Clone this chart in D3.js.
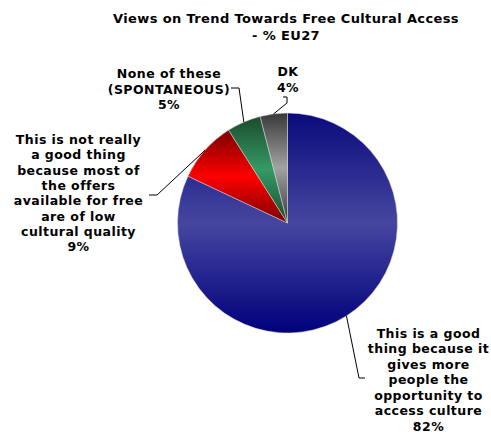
<!DOCTYPE html>
<html>
<head>
<meta charset="utf-8">
<script src="https://cdn.jsdelivr.net/npm/d3@7"></script>
<style>
  html, body { margin: 0; padding: 0; background: #fff; }
  text { font-family: Verdana, "DejaVu Sans", sans-serif; font-weight: bold; fill: #000; }
</style>
</head>
<body>
<svg id="chart" width="491" height="432"></svg>
<script>
const titleLines = ["Views on Trend Towards Free Cultural Access", "- % EU27"];
const categories = [
  "This is a good thing because it gives more people the opportunity to access culture",
  "This is not really a good thing because most of the offers available for free are of low cultural quality",
  "None of these (SPONTANEOUS)",
  "DK"
];
const values = [82, 9, 5, 4];
const labelLines = [
  ["This is a good", "thing because it", "gives more", "people the", "opportunity to", "access culture"],
  ["This is not really", "a good thing", "because most of", "the offers", "available for free", "are of low", "cultural quality"],
  ["None of these", "(SPONTANEOUS)"],
  ["DK"]
];
const gradStops = [
  ["#0a0a7c", "#4646a0", "#00007c"],
  ["#7a0000", "#ff0000", "#7a0000"],
  ["#1c4a2c", "#349a66", "#1c4a2c"],
  ["#383838", "#a2a2a2", "#383838"]
];

// layout
const cx = 287.5, cy = 223, R = 110;
const labelPos = [
  {x: 428.5, y: 337.5, lh: 15.5},
  {x: 78.5, y: 144, lh: 15.3},
  {x: 169, y: 78, lh: 15.5},
  {x: 288, y: 76, lh: 15.6}
];
const leaders = [
  [[359, 378], [365, 378]],
  [[157, 195], [149, 195]],
  [[239, 88], [231, 88]],
  [[287, 103], [287, 97], [283, 97]]
];

const svg = d3.select("#chart");
const defs = svg.append("defs");
gradStops.forEach((s, i) => {
  const g = defs.append("linearGradient").attr("id", "g" + i)
    .attr("x1", 0).attr("y1", 0).attr("x2", 0).attr("y2", 1);
  g.append("stop").attr("offset", "0%").attr("stop-color", s[0]);
  g.append("stop").attr("offset", "50%").attr("stop-color", s[1]);
  g.append("stop").attr("offset", "100%").attr("stop-color", s[2]);
});

// title
const title = svg.append("text").attr("text-anchor", "middle")
  .style("font-size", "13px").style("letter-spacing", "0.37px");
titleLines.forEach((t, i) => {
  title.append("tspan").attr("x", 286).attr("y", 23 + i * 17).text(t);
});

const pie = d3.pie().sort(null).value(d => d)(values);
const arc = d3.arc().innerRadius(0).outerRadius(R);
const g = svg.append("g").attr("transform", `translate(${cx},${cy})`);
g.selectAll("path").data(pie).join("path")
  .attr("d", arc)
  .attr("fill", (d, i) => `url(#g${i})`)
  .attr("stroke", "#d8d8d8")
  .attr("stroke-width", 0.5);

// leaders
pie.forEach((d, i) => {
  const a = (d.startAngle + d.endAngle) / 2;
  const p0 = [cx + R * Math.sin(a), cy - R * Math.cos(a)];
  const pts = [p0].concat(leaders[i]);
  svg.append("path").attr("d", d3.line()(pts))
    .attr("fill", "none").attr("stroke", "#000").attr("stroke-width", 1);
});

// labels
pie.forEach((d, i) => {
  const lp = labelPos[i];
  const lines = labelLines[i].concat([Math.round(values[i]) + "%"]);
  const t = svg.append("text").attr("text-anchor", "middle")
    .style("font-size", "12.5px").style("letter-spacing", "0.45px");
  lines.forEach((l, j) => {
    t.append("tspan").attr("x", lp.x).attr("y", lp.y + j * lp.lh).text(l);
  });
});
</script>
</body>
</html>
